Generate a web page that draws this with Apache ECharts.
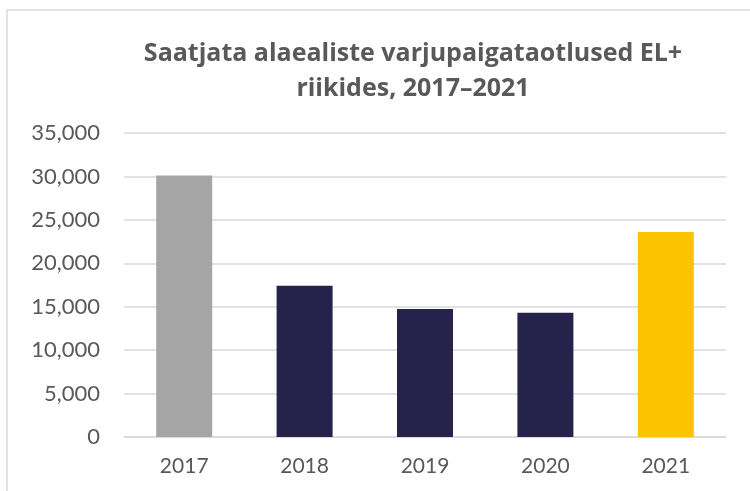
<!DOCTYPE html>
<html>
<head>
<meta charset="utf-8">
<script src="https://cdn.jsdelivr.net/npm/echarts@6/dist/echarts.min.js"></script>
<style>
  html, body { margin: 0; padding: 0; background: #fff; }
  #chart { width: 750px; height: 491px; }
</style>
</head>
<body>
<div id="chart"></div>
<script>
// andmed
var years = ['2017', '2018', '2019', '2020', '2021'];
var applications = [30100, 17400, 14750, 14300, 23600];
var barColors = ['#a5a5a5', '#25234b', '#25234b', '#25234b', '#fcc400'];
var yMin = 0, yMax = 35000, yStep = 5000;

var myChart = echarts.init(document.getElementById('chart'), null, { renderer: 'canvas' });

var option = {
  animation: false,
  backgroundColor: '#fff',
  graphic: [
    {
      // raam ümber graafiku
      type: 'rect',
      silent: true,
      shape: { x: 7, y: 10, width: 800, height: 600 },
      style: { fill: 'none', stroke: '#d9d9d9', lineWidth: 1.5 }
    }
  ],
  title: {
    text: 'Saatjata alaealiste varjupaigataotlused EL+\nriikides, 2017–2021',
    left: 408,
    top: 31,
    textAlign: 'center',
    textStyle: {
      color: '#595959',
      fontFamily: 'Open Sans',
      fontWeight: 'bold',
      fontSize: 25,
      lineHeight: 35
    }
  },
  grid: {
    left: 124,
    right: 24,
    top: 133,
    bottom: 54,
    containLabel: false
  },
  xAxis: {
    type: 'category',
    data: years,
    axisLine: { lineStyle: { color: '#d9d9d9', width: 1.5 } },
    axisTick: { show: false },
    axisLabel: {
      color: '#595959',
      fontFamily: 'Lato',
      fontSize: 21,
      margin: 19
    }
  },
  yAxis: {
    type: 'value',
    min: yMin,
    max: yMax,
    interval: yStep,
    axisLine: { show: false },
    axisTick: { show: false },
    splitLine: { lineStyle: { color: '#d9d9d9', width: 1.5 } },
    axisLabel: {
      color: '#595959',
      fontFamily: 'Lato',
      fontSize: 22,
      margin: 24,
      formatter: function (v) { return v.toLocaleString('en-US'); }
    }
  },
  series: [
    {
      type: 'bar',
      barWidth: 56,
      data: applications.map(function (v, i) {
        return { value: v, itemStyle: { color: barColors[i] } };
      })
    }
  ]
};

myChart.setOption(option);
</script>
</body>
</html>
